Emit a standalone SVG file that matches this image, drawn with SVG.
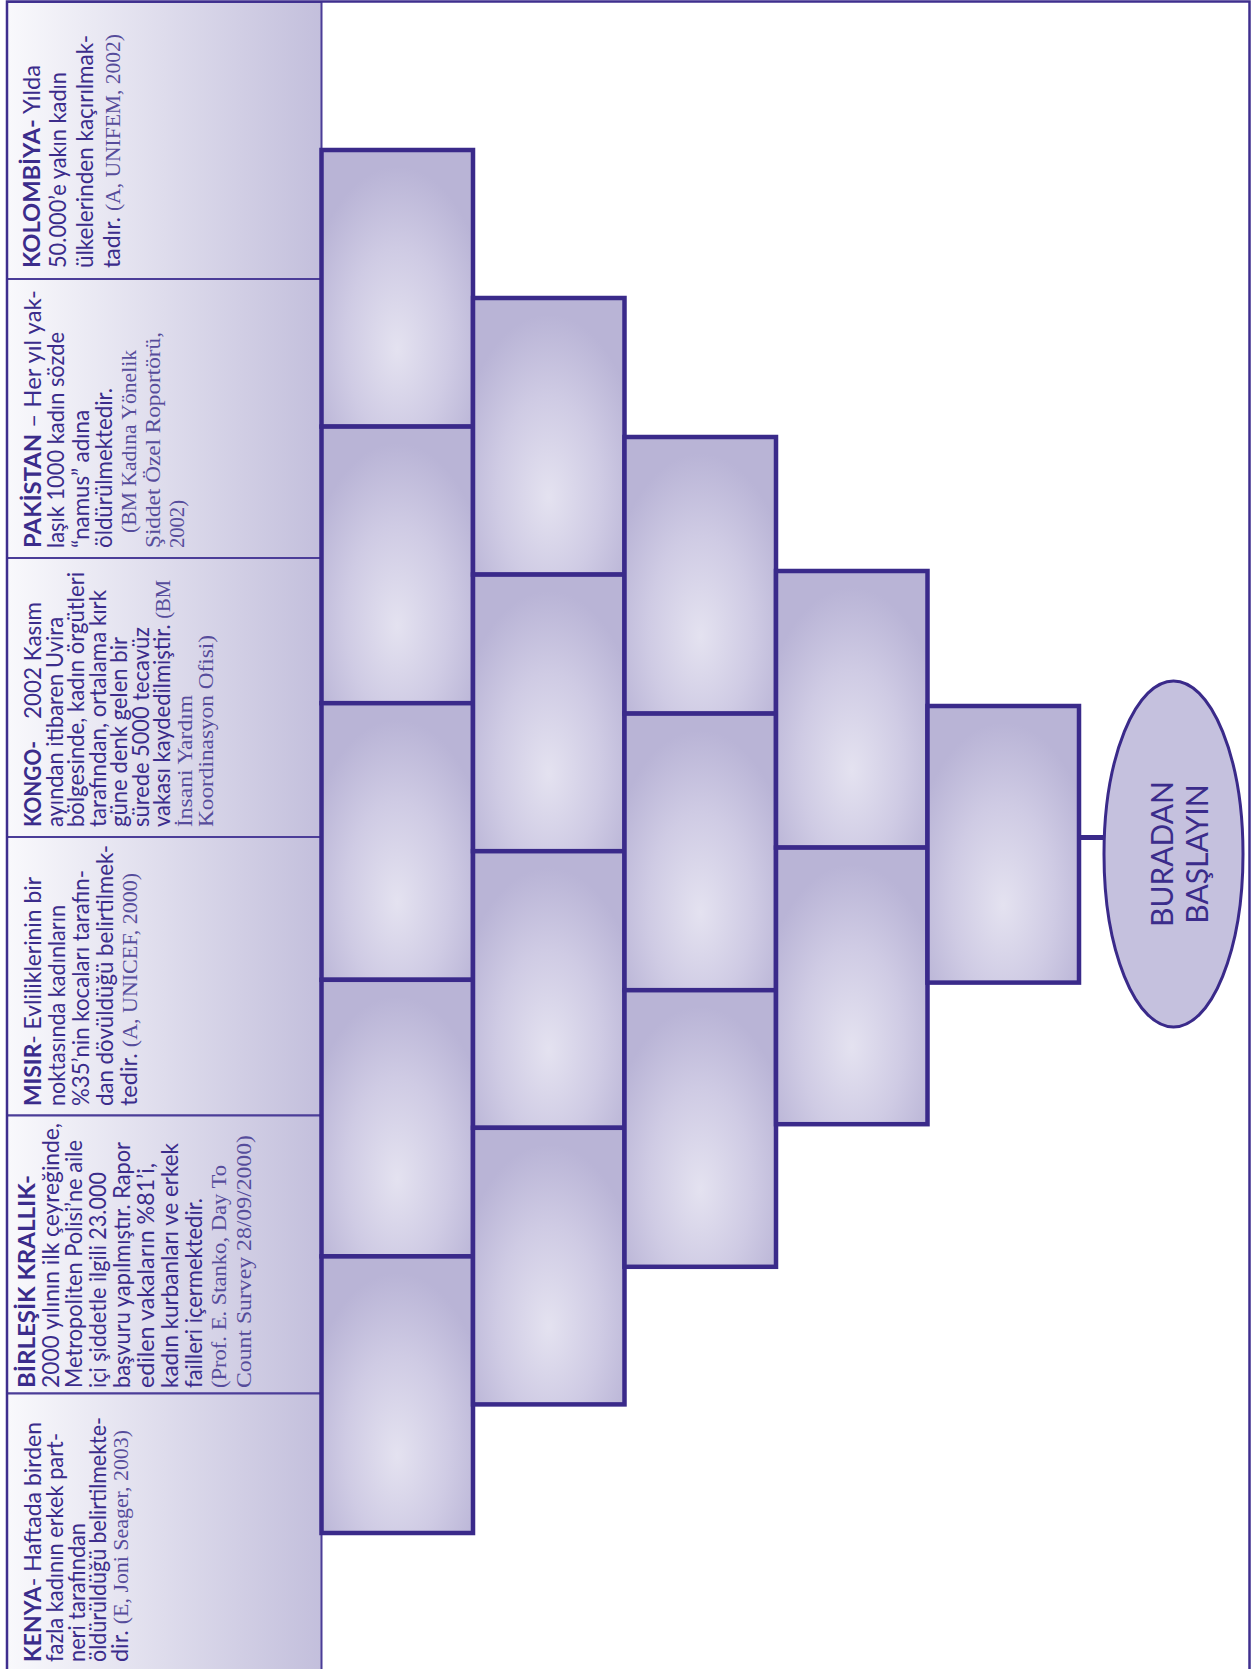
<svg xmlns="http://www.w3.org/2000/svg" width="1252" height="1669" viewBox="0 0 1252 1669">
<defs>
<linearGradient id="pg" x1="0" y1="0" x2="1" y2="0">
<stop offset="0" stop-color="#f9f9fc"/>
<stop offset="1" stop-color="#c3bfdc"/>
</linearGradient>
<radialGradient id="bg" cx="0.5" cy="0.68" r="0.62" fx="0.5" fy="0.72">
<stop offset="0" stop-color="#e4e2f0"/>
<stop offset="0.55" stop-color="#cfcbe4"/>
<stop offset="1" stop-color="#b9b4d6"/>
</radialGradient>
<style>
.panel{fill:url(#pg);stroke:#4b3d98;stroke-width:2}
.blk{fill:url(#bg);stroke:#3a2a8a;stroke-width:4.5}
.t{font-family:Lato,"Open Sans","DejaVu Sans",sans-serif;font-size:23px;fill:#3b2c8b}
.b{font-weight:700}
.s{font-family:"Liberation Serif","DejaVu Serif",serif;font-size:21.5px;fill:#564c9b}
.frame{fill:none;stroke:#3f2f8e;stroke-width:2.5}
.conn{stroke:#3a2a8a;stroke-width:5;fill:none}
.ell{fill:#c5c1de;stroke:#3a2a8a;stroke-width:3}
.et{font-family:Lato,"Open Sans",sans-serif;font-size:30px;fill:#3b2c8b;text-anchor:middle}
</style>
</defs>
<rect width="1252" height="1669" fill="#ffffff"/>

<g id="panels">
<g id="panel-kolombiya">
<rect class="panel" x="7" y="2" width="314.5" height="277"/>
<g transform="translate(0,268) rotate(-90)">
<text class="t" x="0" y="39.5" textLength="203" lengthAdjust="spacingAndGlyphs"><tspan class="b">KOLOMBİYA-</tspan> Yılda</text>
<text class="t" x="0" y="66" textLength="196" lengthAdjust="spacingAndGlyphs">50.000’e yakın kadın</text>
<text class="t" x="0" y="93" textLength="233" lengthAdjust="spacingAndGlyphs">ülkelerinden kaçırılmak-</text>
<text class="t" x="0" y="120" textLength="234" lengthAdjust="spacingAndGlyphs">tadır. <tspan class="s">(A, UNIFEM, 2002)</tspan></text>
</g>
</g>
<g id="panel-pakistan">
<rect class="panel" x="7" y="279" width="314.5" height="279"/>
<g transform="translate(0,548) rotate(-90)">
<text class="t" x="0" y="41" textLength="258" lengthAdjust="spacingAndGlyphs"><tspan class="b">PAKİSTAN</tspan> – Her yıl yak-</text>
<text class="t" x="0" y="64" textLength="216" lengthAdjust="spacingAndGlyphs">laşık 1000 kadın sözde</text>
<text class="t" x="0" y="89" textLength="138" lengthAdjust="spacingAndGlyphs">“namus” adına</text>
<text class="t" x="0" y="112" textLength="160" lengthAdjust="spacingAndGlyphs">öldürülmektedir.</text>
<text class="s" x="15" y="136" textLength="183" lengthAdjust="spacingAndGlyphs">(BM Kadına Yönelik</text>
<text class="s" x="0" y="160" textLength="216" lengthAdjust="spacingAndGlyphs">Şiddet Özel Roportörü,</text>
<text class="s" x="0" y="184" textLength="48" lengthAdjust="spacingAndGlyphs">2002)</text>
</g>
</g>
<g id="panel-kongo">
<rect class="panel" x="7" y="558" width="314.5" height="279"/>
<g transform="translate(0,827) rotate(-90)">
<text class="t b" x="0" y="41" textLength="86" lengthAdjust="spacingAndGlyphs">KONGO-</text>
<text class="t" x="108" y="41" textLength="117" lengthAdjust="spacingAndGlyphs">2002 Kasım</text>
<text class="t" x="0" y="62.5" textLength="210" lengthAdjust="spacingAndGlyphs">ayından itibaren Uvira</text>
<text class="t" x="0" y="84" textLength="255" lengthAdjust="spacingAndGlyphs">bölgesinde, kadın örgütleri</text>
<text class="t" x="0" y="105.5" textLength="237" lengthAdjust="spacingAndGlyphs">tarafından, ortalama kırk</text>
<text class="t" x="0" y="127" textLength="190" lengthAdjust="spacingAndGlyphs">güne denk gelen bir</text>
<text class="t" x="0" y="148.5" textLength="200" lengthAdjust="spacingAndGlyphs">sürede 5000 tecavüz</text>
<text class="t" x="0" y="170" textLength="247" lengthAdjust="spacingAndGlyphs">vakası kaydedilmiştir. <tspan class="s">(BM</tspan></text>
<text class="s" x="0" y="191.5" textLength="132" lengthAdjust="spacingAndGlyphs">İnsani Yardım</text>
<text class="s" x="0" y="213" textLength="192" lengthAdjust="spacingAndGlyphs">Koordinasyon Ofisi)</text>
</g>
</g>
<g id="panel-misir">
<rect class="panel" x="7" y="837" width="314.5" height="278.5"/>
<g transform="translate(0,1106) rotate(-90)">
<text class="t" x="0" y="41" textLength="229" lengthAdjust="spacingAndGlyphs"><tspan class="b">MISIR</tspan>- Evliliklerinin bir</text>
<text class="t" x="0" y="65" textLength="201" lengthAdjust="spacingAndGlyphs">noktasında kadınların</text>
<text class="t" x="0" y="89" textLength="236" lengthAdjust="spacingAndGlyphs">%35’nin kocaları tarafın-</text>
<text class="t" x="0" y="113" textLength="261" lengthAdjust="spacingAndGlyphs">dan dövüldüğü belirtilmek-</text>
<text class="t" x="0" y="137" textLength="233" lengthAdjust="spacingAndGlyphs">tedir. <tspan class="s">(A, UNICEF, 2000)</tspan></text>
</g>
</g>
<g id="panel-birlesik">
<rect class="panel" x="7" y="1115.5" width="314.5" height="278"/>
<g transform="translate(0,1388) rotate(-90)">
<text class="t b" x="0" y="35" textLength="213" lengthAdjust="spacingAndGlyphs">BİRLEŞİK KRALLIK-</text>
<text class="t" x="0" y="58.5" textLength="265" lengthAdjust="spacingAndGlyphs">2000 yılının ilk çeyreğinde,</text>
<text class="t" x="0" y="82" textLength="248" lengthAdjust="spacingAndGlyphs">Metropoliten Polisi’ne aile</text>
<text class="t" x="0" y="106" textLength="216" lengthAdjust="spacingAndGlyphs">içi şiddetle ilgili 23.000</text>
<text class="t" x="0" y="130" textLength="246" lengthAdjust="spacingAndGlyphs">başvuru yapılmıştır. Rapor</text>
<text class="t" x="0" y="154" textLength="225" lengthAdjust="spacingAndGlyphs">edilen vakaların %81’i,</text>
<text class="t" x="0" y="178" textLength="245" lengthAdjust="spacingAndGlyphs">kadın kurbanları ve erkek</text>
<text class="t" x="0" y="202" textLength="190" lengthAdjust="spacingAndGlyphs">failleri içermektedir.</text>
<text class="s" x="0" y="226" textLength="223" lengthAdjust="spacingAndGlyphs">(Prof. E. Stanko, Day To</text>
<text class="s" x="0" y="250.5" textLength="253" lengthAdjust="spacingAndGlyphs">Count Survey 28/09/2000)</text>
</g>
</g>
<g id="panel-kenya">
<rect class="panel" x="7" y="1393.5" width="314.5" height="280"/>
<g transform="translate(0,1662) rotate(-90)">
<text class="t" x="0" y="41" textLength="240" lengthAdjust="spacingAndGlyphs"><tspan class="b">KENYA</tspan>- Haftada birden</text>
<text class="t" x="0" y="63" textLength="229" lengthAdjust="spacingAndGlyphs">fazla kadının erkek part-</text>
<text class="t" x="0" y="85" textLength="139" lengthAdjust="spacingAndGlyphs">neri tarafından</text>
<text class="t" x="0" y="106" textLength="245" lengthAdjust="spacingAndGlyphs">öldürüldüğü belirtilmekte-</text>
<text class="t" x="0" y="127.5" textLength="232" lengthAdjust="spacingAndGlyphs">dir. <tspan class="s">(E, Joni Seager, 2003)</tspan></text>
</g>
</g>
</g>

<path class="frame" d="M7,1669 V1.5 H1249.5 V1669"/>

<g id="blocks">
<g id="col1">
<rect id="b1-1" class="blk" x="321.5" y="150" width="151.5" height="276.6"/>
<rect id="b1-2" class="blk" x="321.5" y="426.6" width="151.5" height="276.6"/>
<rect id="b1-3" class="blk" x="321.5" y="703.2" width="151.5" height="276.6"/>
<rect id="b1-4" class="blk" x="321.5" y="979.8" width="151.5" height="276.6"/>
<rect id="b1-5" class="blk" x="321.5" y="1256.4" width="151.5" height="276.6"/>
</g>
<g id="col2">
<rect id="b2-1" class="blk" x="473" y="298" width="151.5" height="276.6"/>
<rect id="b2-2" class="blk" x="473" y="574.6" width="151.5" height="276.6"/>
<rect id="b2-3" class="blk" x="473" y="851.2" width="151.5" height="276.6"/>
<rect id="b2-4" class="blk" x="473" y="1127.8" width="151.5" height="276.6"/>
</g>
<g id="col3">
<rect id="b3-1" class="blk" x="624.5" y="437" width="151.5" height="276.6"/>
<rect id="b3-2" class="blk" x="624.5" y="713.6" width="151.5" height="276.6"/>
<rect id="b3-3" class="blk" x="624.5" y="990.2" width="151.5" height="276.6"/>
</g>
<g id="col4">
<rect id="b4-1" class="blk" x="776" y="571" width="151.5" height="276.6"/>
<rect id="b4-2" class="blk" x="776" y="847.6" width="151.5" height="276.6"/>
</g>
<g id="col5">
<rect id="b5-1" class="blk" x="927.5" y="706" width="151.5" height="276.6"/>
</g>
</g>

<g id="connectors">
<line class="conn" x1="1079" y1="837.5" x2="1105" y2="837.5"/>
</g>

<g id="start">
<ellipse class="ell" cx="1173.5" cy="854" rx="69.5" ry="173"/>
<g transform="translate(1173,854) rotate(-90)">
<text class="et" x="0" y="0">BURADAN</text>
<text class="et" x="0" y="35">BAŞLAYIN</text>
</g>
</g>
</svg>
